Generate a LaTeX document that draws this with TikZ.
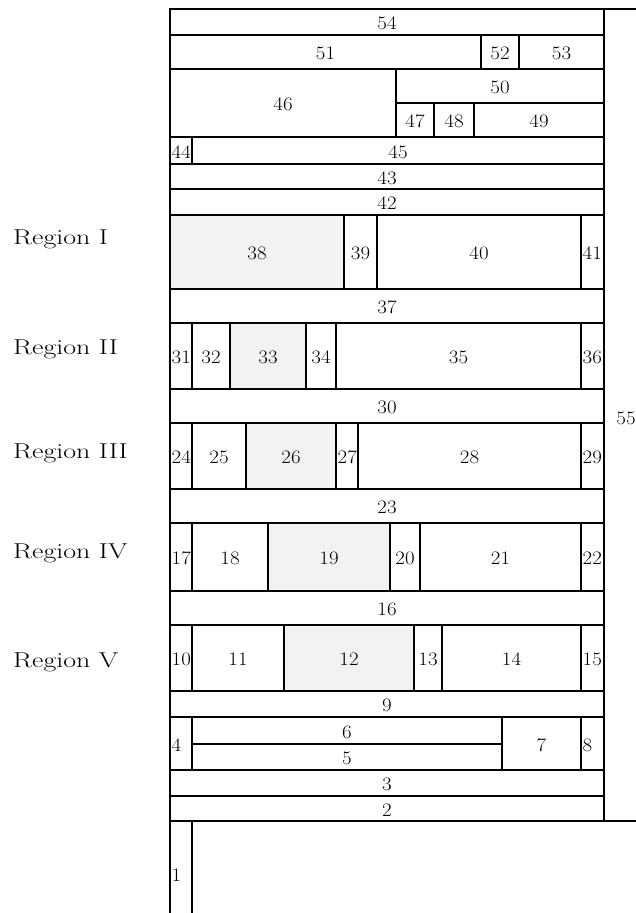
\documentclass[tikz,border=0pt]{standalone}
\usepackage{fontspec}
\usepackage{graphicx}
\definecolor{cellgray}{HTML}{F2F2F2}
\tikzset{
  cellline/.style={draw=black,line width=1.8pt},
  lbl/.style={inner sep=0pt,font=\fontsize{19}{21}\selectfont},
  reglbl/.style={inner sep=0pt,font=\fontsize{21.5}{24}\selectfont},
}
\newcommand{\cellc}[6]{%
  \draw[cellline] (#2,#3) rectangle (#4,#5);
  \node[lbl] (c#1) at ({(#2+#4)/2},{(#3+#5)/2+1.5}) {\scalebox{1.1}[1]{#6}};}
\newcommand{\cellg}[6]{%
  \fill[cellgray] (#2,#3) rectangle (#4,#5);
  \cellc{#1}{#2}{#3}{#4}{#5}{#6}}
\newcommand{\celln}[6]{%
  \begin{scope}
  \clip (#2+1,#3) rectangle (#4-1,#5);
  \node[lbl,anchor=west] (c#1) at (#2+1.5,{(#3+#5)/2+1.5}) {\scalebox{1.1}[1]{#6}};
  \end{scope}
  \draw[cellline] (#2,#3) rectangle (#4,#5);}
\begin{document}
\begin{tikzpicture}[x=1pt,y=-1pt]
\clip (0,0) rectangle (636,913);
\fill[white] (0,0) rectangle (636,913);
% right cell 55
\draw[cellline] (604,9) rectangle (680,821);
\node[lbl] (c55) at (626,418) {\scalebox{1.1}[1]{55}};
% top block
\cellc{54}{170}{9}{604}{35}{54}
\cellc{51}{170}{35}{481}{69}{51}
\cellc{52}{481}{35}{519}{69}{52}
\cellc{53}{519}{35}{604}{69}{53}
\cellc{46}{170}{69}{396}{137}{46}
\cellc{50}{396}{69}{604}{103}{50}
\cellc{47}{396}{103}{434}{137}{47}
\cellc{48}{434}{103}{474}{137}{48}
\cellc{49}{474}{103}{604}{137}{49}
\celln{44}{170}{137}{192}{164}{44}
\cellc{45}{192}{137}{604}{164}{45}
\cellc{43}{170}{164}{604}{189}{43}
\cellc{42}{170}{189}{604}{215}{42}
% Region I
\cellg{38}{170}{215}{344}{289}{38}
\cellc{39}{344}{215}{377}{289}{39}
\cellc{40}{377}{215}{581}{289}{40}
\celln{41}{581}{215}{604}{289}{41}
\cellc{37}{170}{289}{604}{323}{37}
% Region II
\celln{31}{170}{323}{192}{389}{31}
\cellc{32}{192}{323}{230}{389}{32}
\cellg{33}{230}{323}{306}{389}{33}
\cellc{34}{306}{323}{336}{389}{34}
\cellc{35}{336}{323}{581}{389}{35}
\celln{36}{581}{323}{604}{389}{36}
\cellc{30}{170}{389}{604}{423}{30}
% Region III
\celln{24}{170}{423}{192}{489}{24}
\cellc{25}{192}{423}{246}{489}{25}
\cellg{26}{246}{423}{336}{489}{26}
\celln{27}{336}{423}{358}{489}{27}
\cellc{28}{358}{423}{581}{489}{28}
\celln{29}{581}{423}{604}{489}{29}
\cellc{23}{170}{489}{604}{523}{23}
% Region IV
\celln{17}{170}{523}{192}{591}{17}
\cellc{18}{192}{523}{268}{591}{18}
\cellg{19}{268}{523}{390}{591}{19}
\cellc{20}{390}{523}{420}{591}{20}
\cellc{21}{420}{523}{581}{591}{21}
\celln{22}{581}{523}{604}{591}{22}
\cellc{16}{170}{591}{604}{625}{16}
% Region V
\celln{10}{170}{625}{192}{691}{10}
\cellc{11}{192}{625}{284}{691}{11}
\cellg{12}{284}{625}{414}{691}{12}
\cellc{13}{414}{625}{442}{691}{13}
\cellc{14}{442}{625}{581}{691}{14}
\celln{15}{581}{625}{604}{691}{15}
\cellc{9}{170}{691}{604}{717}{9}
% bottom block
\celln{4}{170}{717}{192}{770}{4}
\cellc{6}{192}{717}{502}{744}{6}
\cellc{5}{192}{744}{502}{770}{5}
\cellc{7}{502}{717}{581}{770}{7}
\celln{8}{581}{717}{604}{770}{8}
\cellc{3}{170}{770}{604}{796}{3}
\cellc{2}{170}{796}{604}{821}{2}
\draw[cellline] (170,821) rectangle (192,940);
\node[lbl,anchor=west] (c1) at (171.5,875) {\scalebox{1.1}[1]{1}};
% region labels
\node[reglbl,anchor=base west] (r1) at (13,244) {\scalebox{1.3}[1]{Region I}};
\node[reglbl,anchor=base west] (r2) at (13,354) {\scalebox{1.3}[1]{Region II}};
\node[reglbl,anchor=base west] (r3) at (13,458) {\scalebox{1.3}[1]{Region III}};
\node[reglbl,anchor=base west] (r4) at (13,558) {\scalebox{1.3}[1]{Region IV}};
\node[reglbl,anchor=base west] (r5) at (13,667) {\scalebox{1.3}[1]{Region V}};
\end{tikzpicture}
\end{document}
